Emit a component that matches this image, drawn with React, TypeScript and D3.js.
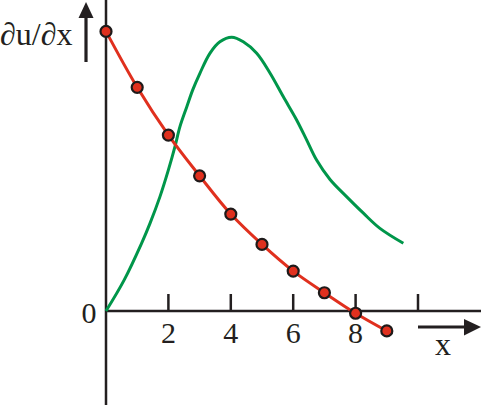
import React from "react";
import * as d3 from "d3";

const W = 481;
const H = 405;

// Red series: measured points at integer x
const redX = [0, 1, 2, 3, 4, 5, 6, 7, 8, 9];
const redY = [9.95, 7.96, 6.26, 4.81, 3.45, 2.37, 1.42, 0.65, -0.08, -0.71];

// Green curve
const greenX = [0, 0.58, 1.14, 1.41, 1.73, 2.0, 2.21, 2.37, 2.59, 2.78, 3.01, 3.33, 3.65, 4.03, 4.4, 4.83, 5.26, 5.68, 6.11, 6.43, 6.75, 7.18, 7.71, 8.25, 8.78, 9.53];
const greenY = [0, 1.1, 2.41, 3.12, 4.07, 5.02, 5.85, 6.56, 7.27, 7.87, 8.46, 9.17, 9.58, 9.74, 9.58, 9.17, 8.46, 7.63, 6.8, 6.09, 5.37, 4.68, 4.07, 3.48, 2.94, 2.41];

const tickValues = [2, 4, 6, 8, 10];
const tickLabels = ["2", "4", "6", "8", ""];

export default function App() {
  const x = d3.scaleLinear().domain([0, 10]).range([106, 418]);
  const y = d3.scaleLinear().domain([0, 10]).range([311, 30]);

  const redPts: [number, number][] = redX.map((v, i) => [v, redY[i]]);
  const greenPts: [number, number][] = greenX.map((v, i) => [v, greenY[i]]);

  const line = d3
    .line<[number, number]>()
    .x((d) => x(d[0]))
    .y((d) => y(d[1]))
    .curve(d3.curveCatmullRom.alpha(0.5));

  const font = "'Liberation Serif', 'Times New Roman', serif";
  const x0 = x(0);
  const y0 = y(0);

  return (
    <svg
      width={W}
      height={H}
      viewBox={`0 0 ${W} ${H}`}
      style={{ position: "absolute", left: 0, top: 0, background: "#fff" }}
    >
      <rect x={0} y={0} width={W} height={H} fill="#fff" />
      {/* axes */}
      <line x1={x0} y1={0} x2={x0} y2={H} stroke="#231f20" strokeWidth={2.5} />
      <line x1={x0} y1={y0} x2={W} y2={y0} stroke="#231f20" strokeWidth={2.5} />
      {tickValues.map((t, i) => (
        <g key={t}>
          <line x1={x(t)} y1={y0} x2={x(t)} y2={y0 - 17} stroke="#231f20" strokeWidth={2.5} />
          {tickLabels[i] && (
            <text x={x(t)} y={343} textAnchor="middle" fontFamily={font} fontSize={30} fill="#231f20">
              {tickLabels[i]}
            </text>
          )}
        </g>
      ))}
      <text x={89} y={323} textAnchor="middle" fontFamily={font} fontSize={30} fill="#231f20">
        0
      </text>

      {/* y label arrow */}
      <line x1={86} y1={62} x2={86} y2={16} stroke="#231f20" strokeWidth={3.2} />
      <path d="M 78.5 18 L 93.5 18 L 86 2 Z" fill="#231f20" />
      <text x={0} y={45} fontFamily={font} fontSize={32} fill="#231f20">
        ∂u/∂x
      </text>

      {/* x label arrow */}
      <line x1={418} y1={327} x2={467} y2={327} stroke="#231f20" strokeWidth={3.2} />
      <path d="M 464 319 L 464 335.5 L 481 327 Z" fill="#231f20" />
      <text x={443} y={355} textAnchor="middle" fontFamily={font} fontSize={32} fill="#231f20">
        x
      </text>

      {/* green curve */}
      <path d={line(greenPts) || ""} fill="none" stroke="#00964a" strokeWidth={3} />

      {/* red curve */}
      <path d={line(redPts) || ""} fill="none" stroke="#e0301e" strokeWidth={3} />
      {redPts.map((d, i) => (
        <circle key={i} cx={x(d[0])} cy={y(d[1])} r={5.5} fill="#e0301e" stroke="#1e1a1a" strokeWidth={2.2} />
      ))}
    </svg>
  );
}
